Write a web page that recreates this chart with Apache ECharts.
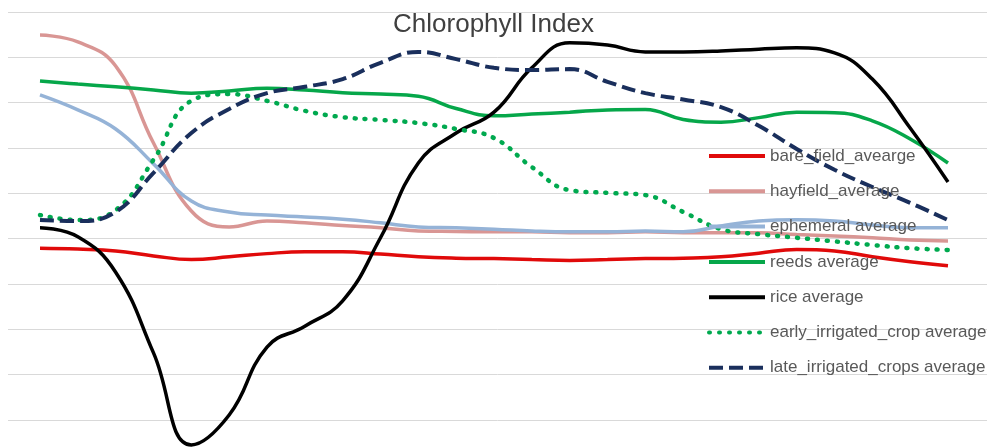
<!DOCTYPE html>
<html>
<head>
<meta charset="utf-8">
<script src="https://cdn.jsdelivr.net/npm/echarts@6/dist/echarts.min.js"></script>
<style>
html,body{margin:0;padding:0;background:#fff;overflow:hidden;width:987px;height:448px;}
#chart{width:987px;height:466px;}
</style>
</head>
<body>
<div id="chart"></div>
<script>
// Observation steps (hidden x axis)
const steps = ['1','2','3','4','5','6','7','8','9','10','11','12','13','14','15','16','17','18','19','20','21','22','23','24','25'];

const bareField  = [4.79,4.77,4.73,4.62,4.54,4.60,4.67,4.71,4.71,4.66,4.60,4.57,4.56,4.54,4.52,4.54,4.56,4.57,4.60,4.68,4.76,4.73,4.60,4.49,4.40];
const hayfield   = [9.49,9.34,8.81,7.11,5.61,5.26,5.39,5.35,5.29,5.24,5.17,5.16,5.15,5.15,5.13,5.13,5.15,5.13,5.13,5.13,5.09,5.06,5.02,4.97,4.95];
const ephemeral  = [8.17,7.84,7.42,6.65,5.83,5.59,5.52,5.48,5.43,5.35,5.26,5.24,5.21,5.17,5.15,5.15,5.17,5.15,5.28,5.39,5.42,5.39,5.30,5.24,5.24];
const reeds      = [8.48,8.41,8.35,8.28,8.21,8.26,8.32,8.28,8.22,8.19,8.14,7.87,7.71,7.75,7.79,7.84,7.85,7.63,7.57,7.67,7.79,7.78,7.60,7.20,6.67];
const rice       = [5.24,5.04,4.26,2.48,0.45,1.11,2.61,3.07,3.63,5.02,6.67,7.33,7.79,8.77,9.32,9.27,9.12,9.12,9.14,9.18,9.21,9.10,8.52,7.44,6.25];
const earlyIrr   = [5.52,5.41,5.63,6.74,8.04,8.19,8.04,7.82,7.68,7.62,7.55,7.42,7.22,6.58,6.07,6.01,5.96,5.59,5.21,5.10,5.02,4.94,4.86,4.79,4.75];
const lateIrr    = [5.41,5.39,5.59,6.45,7.33,7.86,8.21,8.35,8.52,8.88,9.12,8.96,8.77,8.72,8.74,8.46,8.21,8.07,7.90,7.49,6.98,6.52,6.14,5.79,5.41];

const seriesNames = ['bare_field_avearge','hayfield_average','ephemeral average','reeds average','rice average','early_irrigated_crop average','late_irrigated_crops average'];
const seriesData = [bareField, hayfield, ephemeral, reeds, rice, earlyIrr, lateIrr];

const styles = [
  {color:'#E00A0A', width:3.5, type:'solid'},
  {color:'#D99694', width:3.5, type:'solid'},
  {color:'#95B3D7', width:3.5, type:'solid'},
  {color:'#06A74A', width:3.5, type:'solid'},
  {color:'#000000', width:3.5, type:'solid'},
  {color:'#00A94F', width:4.5, type:[1,9], cap:'round'},
  {color:'#1A2F5C', width:4, type:[14,6], cap:'butt'}
];

const series = seriesNames.map((name, k) => ({
  name: name,
  type: 'line',
  smooth: 0.45,
  symbol: 'none',
  showSymbol: false,
  clip: false,
  data: seriesData[k].map((v, i) => [i, v]),
  itemStyle: {color: styles[k].color},
  lineStyle: {color: styles[k].color, width: styles[k].width, type: styles[k].type, cap: styles[k].cap || 'butt'}
}));

const chart = echarts.init(document.getElementById('chart'), null, {renderer:'canvas'});
chart.setOption({
  animation: false,
  backgroundColor: '#ffffff',
  title: {
    text: 'Chlorophyll Index',
    left: 'center',
    top: 12,
    padding: 0,
    textStyle: {fontFamily: 'Liberation Sans, Arial, sans-serif', fontSize: 26, fontWeight: 'normal', color: '#404040'}
  },
  legend: {
    orient: 'vertical',
    left: 707,
    top: 146,
    padding: 0,
    itemWidth: 56,
    itemHeight: 14,
    itemGap: 15.3,
    itemStyle: {opacity: 0},
    lineStyle: {width: 4},
    textStyle: {fontFamily: 'Liberation Sans, Arial, sans-serif', fontSize: 17, color: '#595959', lineHeight: 20},
    data: seriesNames
  },
  grid: {left: 8, right: 0, top: 12, bottom: 0.67, containLabel: false},
  xAxis: {
    type: 'value',
    min: -0.8458,
    max: 25.031,
    show: false
  },
  yAxis: {
    type: 'value',
    min: 0,
    max: 10,
    interval: 1,
    axisLine: {show: false},
    axisTick: {show: false},
    axisLabel: {show: false},
    splitLine: {show: true, lineStyle: {color: '#D9D9D9', width: 1}}
  },
  series: series
});
</script>
</body>
</html>
